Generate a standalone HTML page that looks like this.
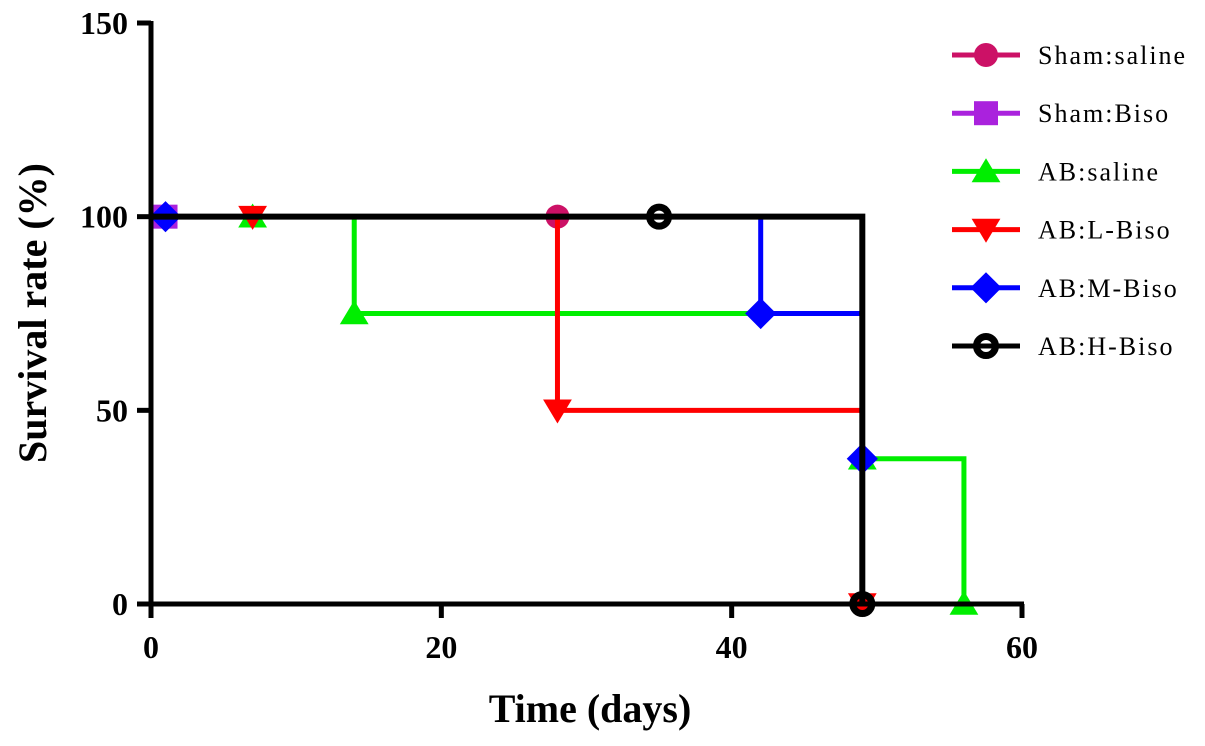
<!DOCTYPE html>
<html><head><meta charset="utf-8"><style>
body{margin:0;background:#fff}
svg text{font-family:"Liberation Serif",serif;font-weight:bold}
</style></head><body>
<svg width="1205" height="741" id="c">
</svg>
<script>
const xTicks=[0,20,40,60];
const yTicks=[0,50,100,150];
const seriesNames=["Sham:saline","Sham:Biso","AB:saline","AB:L-Biso","AB:M-Biso","AB:H-Biso"];
const seriesColors=["#cc1166","#aa22dd","#00ee00","#ff0000","#0000ff","#000000"];
const markers=["circle","square","triangle","invtri","diamond","ocircle"];
const steps0=[[0,100],[49,100]];
const steps1=[[0,100],[49,100]];
const steps2=[[0,100],[14,100],[14,75],[49,75],[49,37.5],[56,37.5],[56,0]];
const steps3=[[0,100],[28,100],[28,50],[49,50],[49,0]];
const steps4=[[0,100],[42,100],[42,75],[49,75],[49,37.5],[49,0]];
const steps5=[[0,100],[49,100],[49,0]];
const marks0=[[1,100],[28,100]];
const marks1=[[1,100]];
const marks2=[[7,100],[14,75],[49,37.5],[56,0]];
const marks3=[[7,100],[28,50],[49,0]];
const marks4=[[1,100],[42,75],[49,37.5]];
const marks5=[[35,100],[49,0]];
const steps=[steps0,steps1,steps2,steps3,steps4,steps5];
const marks=[marks0,marks1,marks2,marks3,marks4,marks5];
const X=v=>151+v*(1022-151)/60;
const Y=v=>604-v*(604-23)/150;
const svg=document.getElementById('c');
const NS="http://www.w3.org/2000/svg";
function mk(t,a,p){const e=document.createElementNS(NS,t);for(const k in a)e.setAttribute(k,a[k]);(p||svg).appendChild(e);return e;}
function marker(type,x,y,col,s,g){
 let e;
 if(type=="circle")e=mk("circle",{cx:x,cy:y,r:s,fill:col},g);
 else if(type=="square")e=mk("rect",{x:x-s,y:y-s,width:2*s,height:2*s,fill:col},g);
 else if(type=="triangle")e=mk("polygon",{points:`${x},${y-s*1.1} ${x-s*1.2},${y+s*0.9} ${x+s*1.2},${y+s*0.9}`,fill:col},g);
 else if(type=="invtri")e=mk("polygon",{points:`${x},${y+s*1.1} ${x-s*1.2},${y-s*0.9} ${x+s*1.2},${y-s*0.9}`,fill:col},g);
 else if(type=="diamond")e=mk("polygon",{points:`${x},${y-s*1.3} ${x+s*1.3},${y} ${x},${y+s*1.3} ${x-s*1.3},${y}`,fill:col},g);
 else e=mk("circle",{cx:x,cy:y,r:s-2.5,fill:"none",stroke:col,"stroke-width":7},g);
 return e;
}
for(let i=0;i<6;i++){
 const g=mk("g",{});
 
 
 const p=mk("polyline",{points:steps[i].map(d=>X(d[0])+","+Y(d[1])).join(" "),fill:"none",stroke:seriesColors[i],"stroke-width":i==5?6:5},g);
 
 
 for(const d of marks[i]){
  const m=marker(markers[i],X(d[0]),Y(d[1]),seriesColors[i],12,g);
  
  
 }
}
const ax=mk("g",{});


mk("line",{x1:X(0),y1:Y(0),x2:X(60)+2,y2:Y(0),stroke:"#000","stroke-width":5},ax);
mk("line",{x1:X(0),y1:Y(0)+2,x2:X(0),y2:Y(150)-2,stroke:"#000","stroke-width":5},ax);
for(const t of yTicks){
 mk("line",{x1:X(0)-14,y1:Y(t),x2:X(0),y2:Y(t),stroke:"#000","stroke-width":5},ax);
 const tx=mk("text",{x:128,y:Y(t)+11,"text-anchor":"end","font-size":32},ax);
 tx.textContent=t;
 
 
}
for(const t of xTicks){
 mk("line",{x1:X(t),y1:Y(0),x2:X(t),y2:Y(0)+14,stroke:"#000","stroke-width":5},ax);
 const tx=mk("text",{x:X(t),y:658,"text-anchor":"middle","font-size":32},ax);
 tx.textContent=t;
 
 
}
const xt=mk("text",{x:590,y:722,"text-anchor":"middle","font-size":40});
xt.textContent="Time (days)";


const yt=mk("text",{x:0,y:0,"text-anchor":"middle","font-size":40,transform:"translate(46,313) rotate(-90)"});
yt.textContent="Survival rate (%)";


const lg=mk("g",{});


for(let i=0;i<6;i++){
 const y=55+i*58.2;
 const e=mk("g",{},lg);
 
 
 mk("line",{x1:952,y1:y,x2:1020,y2:y,stroke:seriesColors[i],"stroke-width":5},e);
 marker(markers[i],986,y,seriesColors[i],12,e);
 const t=mk("text",{x:1038,y:y+9,"font-size":26,style:"font-weight:normal;letter-spacing:2px"},e);
 t.textContent=seriesNames[i];
}
</script>
</body></html>
